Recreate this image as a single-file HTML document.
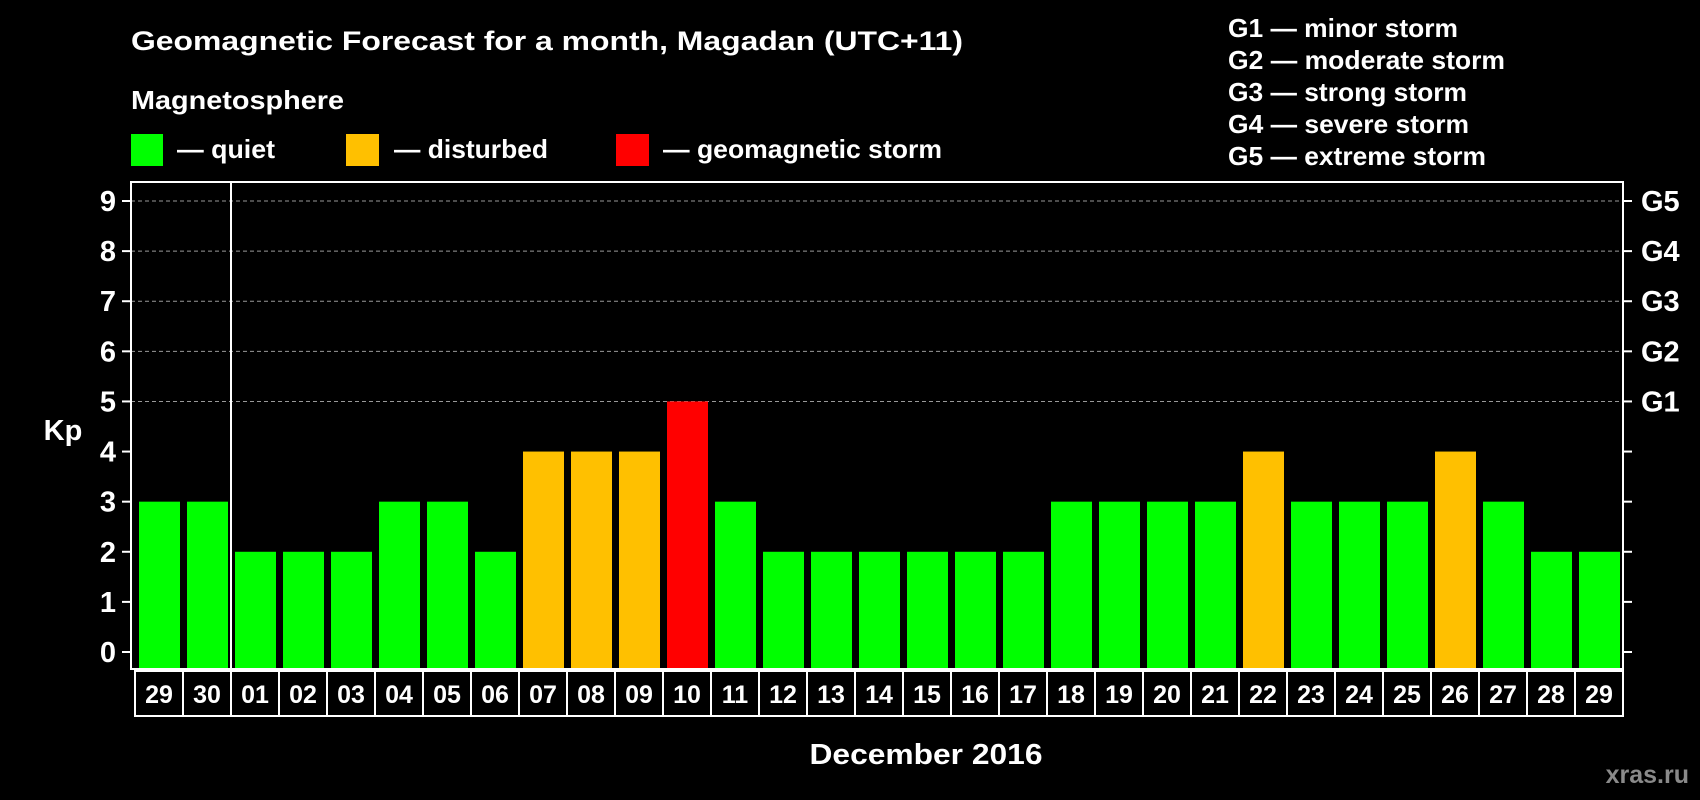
<!DOCTYPE html>
<html><head><meta charset="utf-8"><style>
html,body{margin:0;padding:0;background:#000;width:1700px;height:800px;overflow:hidden}
svg{display:block;font-family:"Liberation Sans",Arial,sans-serif;font-weight:bold}
</style></head><body>
<svg id="chart" width="1700" height="800" xmlns="http://www.w3.org/2000/svg">
<rect x="0" y="0" width="1700" height="800" fill="#000"/>
<text x="131" y="50" fill="#fff" font-size="27" textLength="832" lengthAdjust="spacingAndGlyphs">Geomagnetic Forecast for a month, Magadan (UTC+11)</text>
<text x="131" y="109" fill="#fff" font-size="26" textLength="213" lengthAdjust="spacingAndGlyphs">Magnetosphere</text>
<g>
<rect x="131" y="134" width="32" height="32" fill="#00ff00"/>
<text x="177" y="158" fill="#fff" font-size="26" textLength="98" lengthAdjust="spacingAndGlyphs">— quiet</text></g>
<g>
<rect x="346" y="134" width="33" height="32" fill="#ffc000"/>
<text x="394" y="158" fill="#fff" font-size="26" textLength="154" lengthAdjust="spacingAndGlyphs">— disturbed</text></g>
<g>
<rect x="616" y="134" width="33" height="32" fill="#ff0000"/>
<text x="663" y="158" fill="#fff" font-size="26" textLength="279" lengthAdjust="spacingAndGlyphs">— geomagnetic storm</text></g>
<g>
<text x="1228" y="37" fill="#fff" font-size="26" textLength="230" lengthAdjust="spacingAndGlyphs">G1 — minor storm</text>
<text x="1228" y="69" fill="#fff" font-size="26" textLength="277" lengthAdjust="spacingAndGlyphs">G2 — moderate storm</text>
<text x="1228" y="101" fill="#fff" font-size="26" textLength="239" lengthAdjust="spacingAndGlyphs">G3 — strong storm</text>
<text x="1228" y="133" fill="#fff" font-size="26" textLength="241" lengthAdjust="spacingAndGlyphs">G4 — severe storm</text>
<text x="1228" y="165" fill="#fff" font-size="26" textLength="258" lengthAdjust="spacingAndGlyphs">G5 — extreme storm</text>
</g>
<text x="63" y="440" fill="#fff" font-size="29" text-anchor="middle">Kp</text>
<text x="926" y="764" fill="#fff" font-size="29" text-anchor="middle" textLength="233" lengthAdjust="spacingAndGlyphs">December 2016</text>
<text x="1689" y="783" fill="#8a8a8a" font-size="25" text-anchor="end">xras.ru</text>
<g id="grid"></g><g id="bars"></g><g id="axes"></g>
</svg>
<script>
const days = ["29","30","01","02","03","04","05","06","07","08","09","10","11","12","13","14","15","16","17","18","19","20","21","22","23","24","25","26","27","28","29"];
const kpValues = [3,3,2,2,2,3,3,2,4,4,4,5,3,2,2,2,2,2,2,3,3,3,3,4,3,3,3,4,3,2,2];
const yTicks = [0,1,2,3,4,5,6,7,8,9];
const gLabels = ["G1","G2","G3","G4","G5"];
const gLevels = [5,6,7,8,9];

const NS="http://www.w3.org/2000/svg";
const L=131,R=1623,T=182,B=669,X0=135,SLOT=48;
function y(v){return 652-v*(451/9);}
function xs(i){return X0+i*SLOT;}
function mk(tag,attrs,parent){const e=document.createElementNS(NS,tag);for(const k in attrs)e.setAttribute(k,attrs[k]);parent.appendChild(e);return e;}
const grid=document.getElementById('grid'),bars=document.getElementById('bars'),axes=document.getElementById('axes');
function color(v){return v>=5?"#ff0000":(v>=4?"#ffc000":"#00ff00");}

gLevels.forEach((lv,i)=>{
  const g=mk('line',{x1:L,x2:R,y1:y(lv),y2:y(lv),stroke:'#999','stroke-width':1,'stroke-dasharray':'4,3'},grid);
  
  
  const t=mk('text',{x:1641,y:y(lv)+10,fill:'#fff','font-size':29},axes);
  t.textContent=gLabels[i];
  
  
});
kpValues.forEach((v,i)=>{
  const r=mk('rect',{x:xs(i)+4,y:y(v),width:41,height:B-1-y(v),fill:color(v)},bars);
  
  
});
const fr=mk('rect',{x:L,y:T,width:R-L,height:B-T,fill:'none',stroke:'#fff','stroke-width':2},axes);


const sep=mk('line',{x1:231,x2:231,y1:T,y2:B,stroke:'#fff','stroke-width':2},axes);


yTicks.forEach(v=>{
  const a=mk('line',{x1:122,x2:L,y1:y(v),y2:y(v),stroke:'#fff','stroke-width':2},axes);
  
  
  const b=mk('line',{x1:R,x2:1632,y1:y(v),y2:y(v),stroke:'#fff','stroke-width':2},axes);
  
  
  const t=mk('text',{x:116,y:y(v)+10,fill:'#fff','font-size':29,'text-anchor':'end'},axes);
  t.textContent=v;
  
  
});
days.forEach((d,i)=>{
  const r=mk('rect',{x:xs(i),y:671,width:SLOT,height:45,fill:'none',stroke:'#fff','stroke-width':2},axes);
  
  
  const t=mk('text',{x:xs(i)+SLOT/2,y:703,fill:'#fff','font-size':25,'text-anchor':'middle'},axes);
  t.textContent=d;
  
  
});
</script>
</body></html>
